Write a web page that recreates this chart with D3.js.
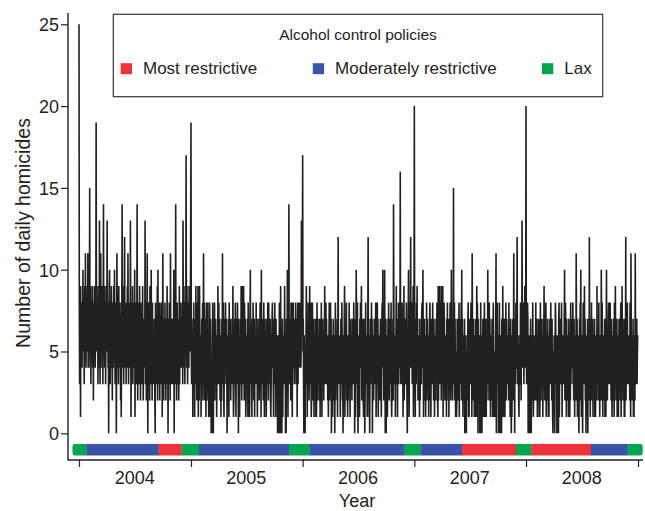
<!DOCTYPE html>
<html>
<head>
<meta charset="utf-8">
<script src="https://cdn.jsdelivr.net/npm/d3@7"></script>
<style>
  body { margin: 0; background: #fff; }
  svg text { font-family: "Liberation Sans", Arial, Helvetica, sans-serif; fill: #231f20; }
</style>
</head>
<body>
<div id="plot"></div>
<script>
/* daily homicide counts, one string per month, one character per day (base 36: a=10 ... p=25) */
var counts2004 = [
    "p836917586 497a568379 5b6487596b 4",
    "6857f49638 7596482769 58476j759",
    "5837694d63 8b57946837 e569478369 5",
    "7d5846079a 5386497528 64795a6387",
    "605b748639 5748627158 e6497385c6 4",
    "57386495b6 378465d716 8459376845",
    "a1648537e5 2684739562 8475369427 5",
    "475d368257 b406385729 463a572846 3",
    "6375208463 7592a46385 2746835716",
    "b462753846 2573946057 38462b5374 6",
    "53746a0583 6e47258364 7259364857",
    "47583d6495 73865h7496 3857496857 c"
];
var counts2005 = [
    "j537461538 4715639482 6739158294 3",
    "4615735824 b538274516 82458361",
    "5384175034 0281043682 7435614739 5",
    "4835724615 274b358217 3568473506",
    "5374185347 2563475931 2457384157 3",
    "4835074215 3749526934 7952843712",
    "5364718463 157a436217 4385247165 4",
    "3845714635 72468371a4 6357248314 7",
    "5361475384 2853647213 6478563175",
    "4835174365 0463058240 9356047153 6",
    "5394605073 4a6157e463 5728485167",
    "8465375486 3571683876 4856745d67 9"
];
var counts2006 = [
    "h573064205 3694715384 7259364812 6",
    "4825371536 4715138427 35462715",
    "5384175346 2749536847 3562413682 4",
    "3847052614 7253604825 364715c463",
    "5361475386 2503647916 3548263142 6",
    "4835174365 2746358470 3615a74382",
    "0463517486 5924736217 4302583645 1",
    "47c3615047 3658470536 2473546813 7",
    "3847153642 573614785a 46253a4027",
    "0536147384 2573648213 6472e83546 1",
    "4693571648 35746g5384 6835174925",
    "5736485206 47a516847c 5748365917 8"
];
var counts2007 = [
    "k641573859 4725364172 54637854a6 1",
    "5372641538 2475361427 83514736",
    "4835274163 5274685219 2653947382 9",
    "3749163874 2536417283 6471536842",
    "4a635274f5 3827415312 7435268173 5",
    "5382a47316 2547036040 5263781517",
    "46358741b6 2537416312 7419586074 5",
    "4605380260 5274136813 64715243a5 8",
    "5283741526 3741586314 1526b04385",
    "4605284036 2507419516 2741538247 5",
    "5364285361 4720516472 5b64075384",
    "47c5364215 36485274d6 5748365948 7"
];
var counts2008 = [
    "k536487053 6402571036 2584136425 3",
    "4825371516 4725138427 354617359",
    "5263781526 3741516374 5836274105 3",
    "4630587364 0536207815 4736485163",
    "53647a2586 4172536417 3615283756 4",
    "4835274163 52b6471516 2047382a41",
    "5360487369 4725036417 05362c4617 5",
    "4825371536 4715136429 3546283516 2",
    "53a6284163 524716315a 4625378536",
    "4835274136 2574186395 2647153614 7",
    "5362781539 4625371516 4c25378536",
    "46352841b6 3625471516 42b5364735 6"
];

var years = [2004, 2005, 2006, 2007, 2008];
var yTicks = [0, 5, 10, 15, 20, 25];

// alcohol control policy periods (start, end)
var policyNames = ["Most restrictive", "Moderately restrictive", "Lax"];
var policyColors = ["#ee3239", "#3a54a5", "#00a550"];
var policyPeriods = [
    {start: "2004-01-01", end: "2004-01-25", policy: 2},
    {start: "2004-01-25", end: "2004-09-17", policy: 1},
    {start: "2004-09-17", end: "2004-12-01", policy: 0},
    {start: "2004-12-01", end: "2005-01-27", policy: 2},
    {start: "2005-01-27", end: "2005-11-17", policy: 1},
    {start: "2005-11-17", end: "2006-01-23", policy: 2},
    {start: "2006-01-23", end: "2006-11-30", policy: 1},
    {start: "2006-11-30", end: "2007-01-21", policy: 2},
    {start: "2007-01-21", end: "2007-06-06", policy: 1},
    {start: "2007-06-06", end: "2007-11-29", policy: 0},
    {start: "2007-11-29", end: "2008-01-18", policy: 2},
    {start: "2008-01-18", end: "2008-07-31", policy: 0},
    {start: "2008-07-31", end: "2008-11-28", policy: 1},
    {start: "2008-11-28", end: "2008-12-31", policy: 2}
];

/* build the daily table */
var daily = [];
[counts2004, counts2005, counts2006, counts2007, counts2008].forEach(function(months, yi){
    months.forEach(function(str, mi){
        str.replace(/\s/g, "").split("").forEach(function(ch, di){
            daily.push({date: new Date(Date.UTC(years[yi], mi, di + 1)), n: parseInt(ch, 36)});
        });
    });
});

var W = 645, H = 511;
var svg = d3.select('#plot')
    .append('svg')
    .attr('width', W)
    .attr('height', H);

var x = d3.scaleUtc()
    .domain([new Date(Date.UTC(2004, 0, 1)), new Date(Date.UTC(2009, 0, 1))])
    .range([79, 638]);
var y = d3.scaleLinear()
    .domain([0, 25])
    .range([433.3, 24.3]);

var parse = d3.utcParse("%Y-%m-%d");
var ink = "#231f20";

// y axis
svg.append('g')
    .attr('transform', 'translate(68,0)')
    .call(d3.axisLeft(y).tickValues(yTicks).tickSize(7).tickPadding(2))
    .call(function(g){
        g.select('.domain').remove();
        g.selectAll('line').attr('stroke', ink).attr('stroke-width', 1.2);
        g.selectAll('text').attr('font-size', 18).attr('font-family', null).attr('fill', ink).attr('dy', '0.36em');
    });

// x axis: ticks at year starts, labels at mid-year
var yearStarts = years.concat([2009]).map(function(yr){ return new Date(Date.UTC(yr, 0, 1)); });
svg.append('g')
    .attr('transform', 'translate(0,460)')
    .call(d3.axisBottom(x).tickValues(yearStarts).tickSize(7).tickFormat(""))
    .call(function(g){
        g.select('.domain').remove();
        g.selectAll('line').attr('stroke', ink).attr('stroke-width', 1.2);
    });

svg.selectAll('.yearLabel')
    .data(years)
    .enter()
    .append('text')
    .attr('class', 'yearLabel')
    .attr('x', function(d){ return x(new Date(Date.UTC(d, 6, 1))); })
    .attr('y', 484)
    .attr('text-anchor', 'middle')
    .attr('font-size', 18)
    .text(function(d){ return d; });

// axis lines
svg.append('path')
    .attr('d', 'M68,13V460H643')
    .attr('fill', 'none')
    .attr('stroke', ink)
    .attr('stroke-width', 1.4);

// policy band at y = -1
var bandY = y(-1) - 6;
svg.append('clipPath')
    .attr('id', 'bandClip')
    .append('rect')
    .attr('x', x(daily[0].date) - 6.5)
    .attr('y', bandY)
    .attr('width', x(daily[daily.length - 1].date) - x(daily[0].date) + 11.5)
    .attr('height', 12)
    .attr('rx', 3);

var band = svg.append('g').attr('clip-path', 'url(#bandClip)');
band.selectAll('.period')
    .data(policyPeriods)
    .enter()
    .append('rect')
    .attr('class', 'period')
    .attr('x', function(d, i){ return i === 0 ? x(parse(d.start)) - 8 : x(parse(d.start)); })
    .attr('y', bandY)
    .attr('width', function(d, i){
        var w = x(parse(d.end)) - x(parse(d.start));
        if (i === 0 || i === policyPeriods.length - 1) w += 8;
        return w + 0.3;
    })
    .attr('height', 12)
    .attr('fill', function(d){ return policyColors[d.policy]; });

// daily series
var line = d3.line()
    .x(function(d){ return x(d.date); })
    .y(function(d){ return y(d.n); });

svg.append('path')
    .datum(daily)
    .attr('d', line)
    .attr('fill', 'none')
    .attr('stroke', ink)
    .attr('stroke-width', 1.6);

// axis titles
svg.append('text')
    .attr('transform', 'translate(30,233) rotate(-90)')
    .attr('text-anchor', 'middle')
    .attr('font-size', 19.5)
    .text('Number of daily homicides');

svg.append('text')
    .attr('x', 357)
    .attr('y', 507)
    .attr('text-anchor', 'middle')
    .attr('font-size', 18)
    .text('Year');

// legend
var legend = svg.append('g');
legend.append('rect')
    .attr('x', 113.3)
    .attr('y', 14.3)
    .attr('width', 489.4)
    .attr('height', 82.4)
    .attr('fill', '#fff')
    .attr('stroke', '#333')
    .attr('stroke-width', 1.2);

legend.append('text')
    .attr('x', 358)
    .attr('y', 39.5)
    .attr('text-anchor', 'middle')
    .attr('font-size', 15.5)
    .text('Alcohol control policies');

var legendX = [120.7, 312.8, 542];
var items = legend.selectAll('.item')
    .data(policyNames)
    .enter()
    .append('g')
    .attr('class', 'item')
    .attr('transform', function(d, i){ return 'translate(' + legendX[i] + ',0)'; });

items.append('rect')
    .attr('y', 63.2)
    .attr('width', 11.3)
    .attr('height', 11)
    .attr('fill', function(d, i){ return policyColors[i]; });

items.append('text')
    .attr('x', 22.3)
    .attr('y', 73.5)
    .attr('font-size', 17)
    .text(function(d){ return d; });
</script>
</body>
</html>
